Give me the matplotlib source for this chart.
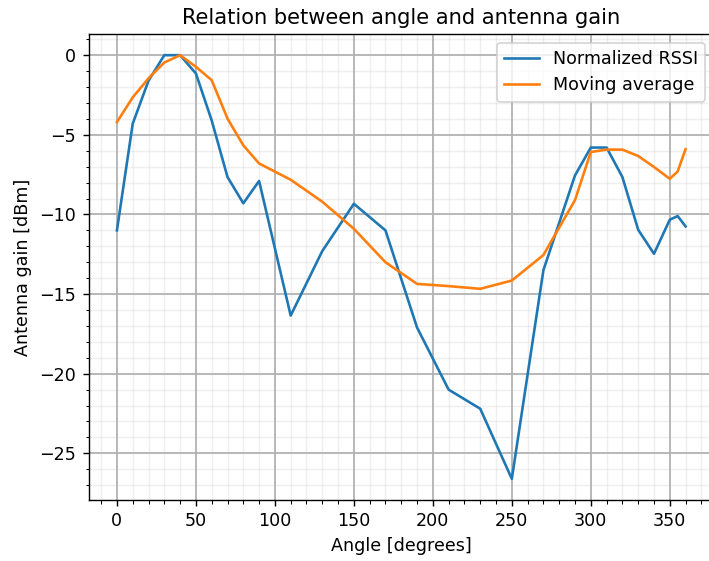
import matplotlib.pyplot as plt
from matplotlib.ticker import MultipleLocator

# angle in degrees (uneven spacing)
angles = [0, 10, 20, 30, 40, 50, 60, 70, 80, 90, 110, 130, 150, 170, 190,
          210, 230, 250, 270, 290, 300, 310, 320, 330, 340, 350, 355, 360]

rssi = [-11.0, -4.3, -1.6, 0.0, 0.0, -1.15, -4.1, -7.65, -9.3, -7.9, -16.35,
        -12.3, -9.33, -11.0, -17.1, -21.0, -22.2, -26.6, -13.5, -7.55, -5.8,
        -5.8, -7.65, -10.96, -12.47, -10.33, -10.1, -10.75]

moving_avg = [-4.2, -2.65, -1.45, -0.46, 0.0, -0.73, -1.57, -3.98, -5.66, -6.8,
              -7.82, -9.2, -10.9, -13.0, -14.36, -14.5, -14.67, -14.15, -12.55,
              -9.1, -6.08, -5.93, -5.93, -6.33, -7.02, -7.76, -7.3, -5.9]

DPI = 126
fig = plt.figure(figsize=(709 / DPI, 561 / DPI), dpi=DPI)
# axes runs a little past the right edge, as in the cropped original
ax = fig.add_axes([88.5 / 709, 61 / 561, 625.5 / 709, 466 / 561])

ax.plot(angles, rssi, label="Normalized RSSI")
ax.plot(angles, moving_avg, label="Moving average")

ax.xaxis.set_minor_locator(MultipleLocator(10))
ax.yaxis.set_minor_locator(MultipleLocator(1))
ax.grid(which="major", color="#b0b0b0", linewidth=1.0)
ax.grid(which="minor", color="#b0b0b0", alpha=0.2, linewidth=0.8)

ax.set_title("Relation between angle and antenna gain")
ax.set_xlabel("Angle [degrees]")
ax.set_ylabel("Antenna gain [dBm]")
ax.legend(loc="upper right")

fig.savefig("out.png", dpi=DPI)
